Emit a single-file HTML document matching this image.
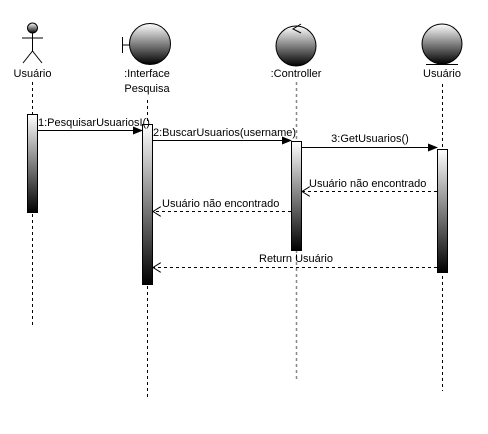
<!DOCTYPE html>
<html><head><meta charset="utf-8"><style>
html,body{margin:0;padding:0;background:#fff;width:488px;height:434px;overflow:hidden}
text{font-family:"Liberation Sans",sans-serif;font-size:11px;fill:#000}
</style></head><body>
<svg width="488" height="434" viewBox="0 0 488 434" xmlns="http://www.w3.org/2000/svg">
<defs>
<linearGradient id="g" x1="0" y1="0" x2="0" y2="1"><stop offset="0" stop-color="#fff"/><stop offset="1" stop-color="#000"/></linearGradient>
<marker id="fa" markerWidth="10" markerHeight="8" refX="9" refY="4" orient="auto" markerUnits="userSpaceOnUse"><path d="M0,0 L10,4 L0,8 Z" fill="#000"/></marker>
<marker id="oa" markerWidth="10" markerHeight="10" refX="8" refY="5" orient="auto" markerUnits="userSpaceOnUse"><path d="M0,0 L8,5 L0,10" fill="none" stroke="#000"/></marker>
</defs>
<g stroke="#000" stroke-dasharray="3,3" fill="none">
<line x1="32.5" y1="82" x2="32.5" y2="325"/>
<line x1="147.5" y1="100" x2="147.5" y2="397"/>
<line x1="442.5" y1="84" x2="442.5" y2="391"/>
</g>
<line x1="296.5" y1="82" x2="296.5" y2="380" stroke="#888" stroke-width="1.5" stroke-dasharray="3,3"/>
<circle cx="32.5" cy="28" r="5" fill="url(#g)" stroke="#000"/>
<g stroke="#000"><line x1="32.5" y1="33" x2="32.5" y2="51"/><line x1="22" y1="38" x2="43" y2="38"/><line x1="32.5" y1="51" x2="23" y2="63"/><line x1="32.5" y1="51" x2="42" y2="63"/></g>
<text x="32.5" y="77" text-anchor="middle">Usuário</text>
<g stroke="#000"><line x1="122.5" y1="37" x2="122.5" y2="53"/><line x1="122.5" y1="45" x2="130" y2="45"/></g>
<circle cx="150" cy="44" r="20.5" fill="url(#g)" stroke="#000"/>
<text x="147" y="77" text-anchor="middle">:Interface</text>
<text x="147" y="92" text-anchor="middle">Pesquisa</text>
<circle cx="296" cy="46" r="20" fill="url(#g)" stroke="#000"/>
<path d="M301,24 L293,29 L301,33" fill="none" stroke="#000"/>
<text x="296" y="77" text-anchor="middle">:Controller</text>
<circle cx="442" cy="44" r="20" fill="url(#g)" stroke="#000"/>
<line x1="426" y1="64.5" x2="458" y2="64.5" stroke="#000"/>
<text x="442" y="77" text-anchor="middle">Usuário</text>
<g stroke="#000" fill="url(#g)">
<rect x="27.5" y="114.5" width="10" height="98"/>
<rect x="142.5" y="124.5" width="10" height="160"/>
<rect x="291.5" y="141.5" width="10" height="109"/>
<rect x="437.5" y="149.5" width="10" height="123"/>
</g>
<g stroke="#000">
<line x1="37.5" y1="130.5" x2="142" y2="130.5" marker-end="url(#fa)"/>
<line x1="152.5" y1="140.5" x2="291" y2="140.5" marker-end="url(#fa)"/>
<line x1="301.5" y1="147.5" x2="437" y2="147.5" marker-end="url(#fa)"/>
<line x1="437" y1="191.5" x2="302" y2="191.5" stroke-dasharray="3,3" marker-end="url(#oa)"/>
<line x1="291" y1="211.5" x2="153" y2="211.5" stroke-dasharray="3,3" marker-end="url(#oa)"/>
<line x1="437" y1="267.5" x2="153" y2="267.5" stroke-dasharray="3,3" marker-end="url(#oa)"/>
</g>
<text x="38" y="126">1:PesquisarUsuariosI()</text>
<text x="153" y="136">2:BuscarUsuarios(username)</text>
<text x="370" y="142" text-anchor="middle">3:GetUsuarios()</text>
<text x="309" y="187">Usuário não encontrado</text>
<text x="162" y="207">Usuário não encontrado</text>
<text x="296" y="262" text-anchor="middle">Return Usuário</text>
</svg>
</body></html>
